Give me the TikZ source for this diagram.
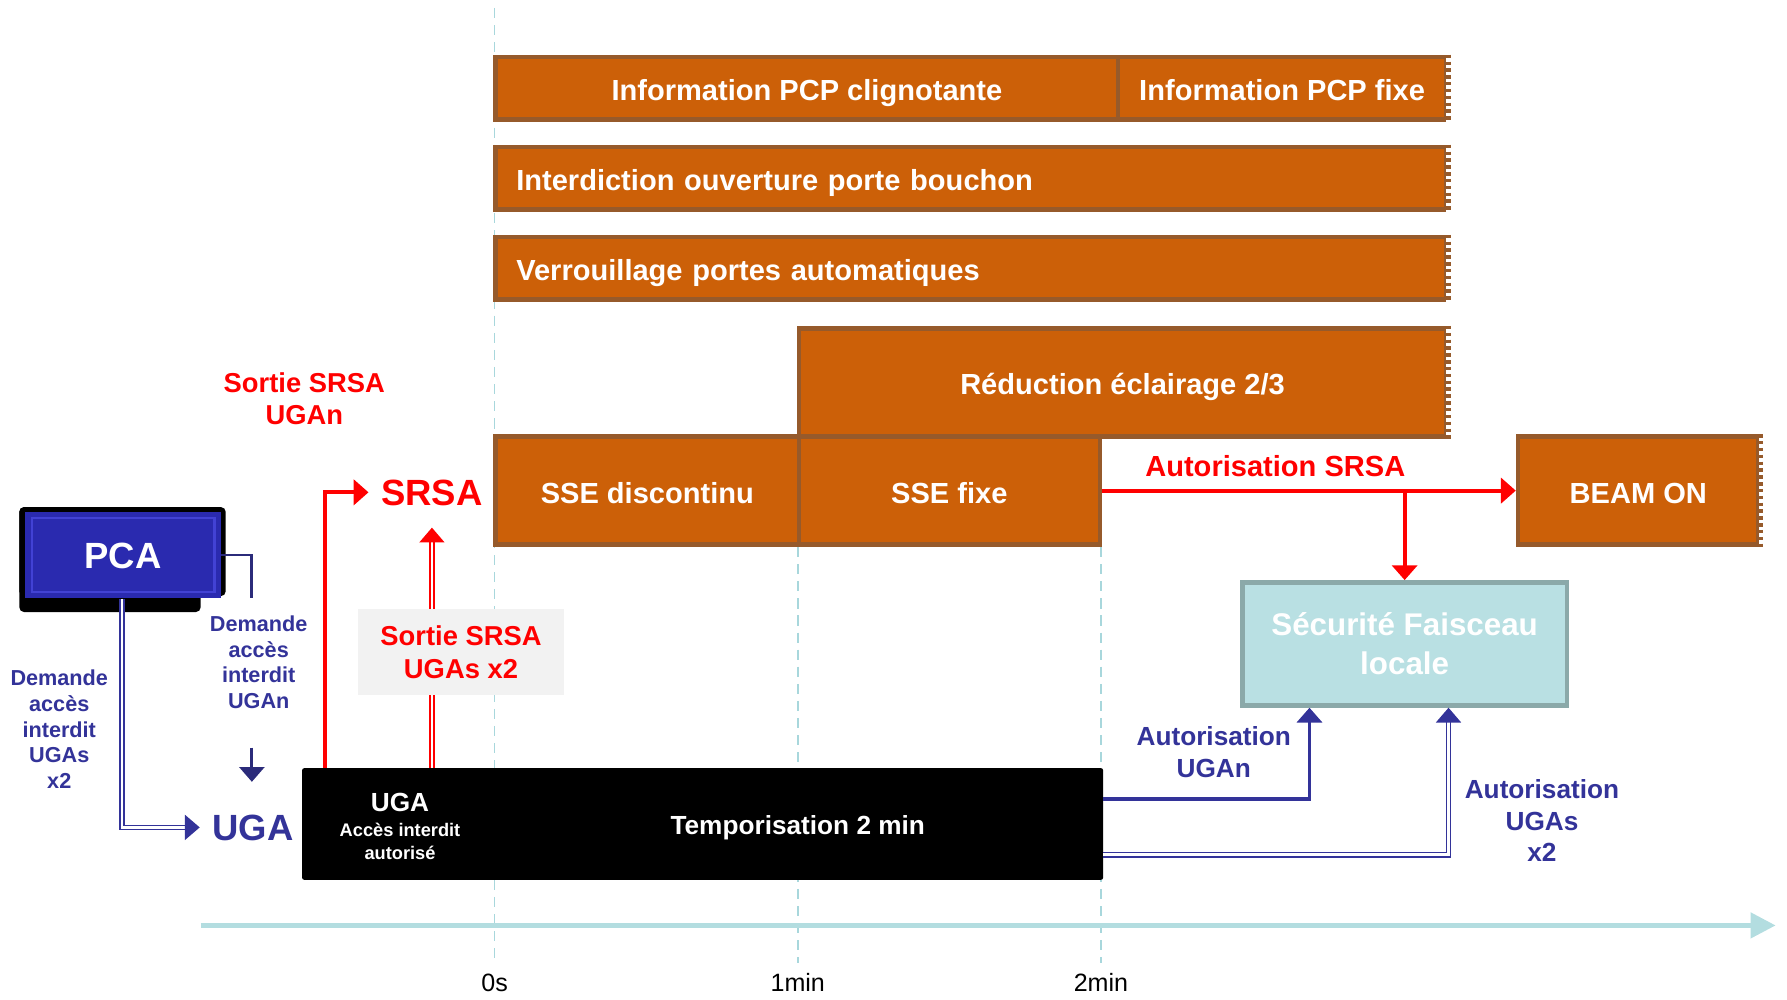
\documentclass[tikz,border=0pt]{standalone}
\usepackage{fontspec}
\setmainfont{Liberation Sans}
\usetikzlibrary{arrows.meta,positioning}

\definecolor{orangebox}{RGB}{204,96,8}
\definecolor{brunbox}{RGB}{150,90,43}
\definecolor{bleupca}{RGB}{42,42,175}
\definecolor{bleubord}{RGB}{66,66,212}
\definecolor{marine}{RGB}{51,51,153}
\definecolor{marinefonce}{RGB}{43,43,122}
\definecolor{cyanbox}{RGB}{185,224,227}
\definecolor{cyanbord}{RGB}{139,169,169}
\definecolor{cyanaxe}{RGB}{179,221,224}
\definecolor{cyangrille}{RGB}{168,215,220}
\definecolor{grisbox}{RGB}{242,242,242}

\tikzset{
  >={Triangle[length=13pt,width=22pt]},
}
\tikzstyle{every node}=[inner sep=0pt]
\tikzstyle{phase}=[draw=brunbox,fill=orangebox,line width=4pt,text=white,anchor=north west,
  font=\bfseries\fontsize{25.5}{30}\selectfont,text height=22pt,text depth=0pt]
\tikzstyle{ouvert}=[draw=white,line width=4pt,postaction={draw=brunbox,dash pattern=on 3pt off 3pt}]
\tikzstyle{repere}=[cyangrille,line width=1.5pt,dash pattern=on 9pt off 6pt]
\tikzstyle{temps}=[font=\fontsize{22}{26}\selectfont,text height=16pt,text depth=0pt]
\tikzstyle{grand}=[font=\bfseries\fontsize{32}{38}\selectfont,text height=23pt,text depth=0pt]
\tikzstyle{moyen}=[font=\bfseries\fontsize{25.5}{30}\selectfont,text height=18.4pt,text depth=0pt]
\tikzstyle{petit}=[font=\bfseries\fontsize{23}{28}\selectfont,text height=16.5pt,text depth=0pt]
\tikzstyle{bloc}=[align=center,font=\bfseries\fontsize{23}{28}\selectfont]
\tikzstyle{demande}=[align=center,text=marine,font=\bfseries\fontsize{19}{22.5}\selectfont]
\tikzstyle{rouge}=[red,line width=3.5pt]
\tikzstyle{rougedbl}=[draw=red,double=white,double distance=2.5pt,line width=1.3pt]
\tikzstyle{bleu}=[marine,line width=3pt]
\tikzstyle{bleudbl}=[draw=marine,double=white,double distance=2.5pt,line width=1.3pt]
\tikzstyle{axe}=[cyanaxe,line width=4pt,-{Triangle[length=22pt,width=22pt]}]

\begin{document}
\begin{tikzpicture}[x=1pt,y=-1pt]
  \useasboundingbox (0,0) rectangle (1568,877);

  \foreach \x/\t/\y in {434/0s/7,700/1min/480,966/2min/480}{
    \draw[repere] (\x,\y) -- (\x,845);
    \node[temps] (t\t) at (\x,862) {\t};
  }
  \coordinate (t0) at (176,812);
  \coordinate (tfin) at (1558,812);
  \draw[axe] (t0) -- (tfin);

  \node[phase,minimum width=546pt,minimum height=55pt] (clign) at (433,48) {Information PCP clignotante};
  \node[phase,minimum width=288pt,minimum height=55pt] (fixe) at (979,48) {Information PCP fixe};
  \node[phase,minimum width=834pt,minimum height=55pt,text width=798pt,align=left] (porte) at (433,127) {Interdiction ouverture porte bouchon};
  \node[phase,minimum width=834pt,minimum height=55pt,text width=798pt,align=left] (verrou) at (433,206) {Verrouillage portes automatiques};
  \node[phase,minimum width=568pt,minimum height=95pt] (eclair) at (699,286) {Réduction éclairage 2/3};
  \node[phase,minimum width=266pt,minimum height=95pt] (ssedisc) at (433,381) {SSE discontinu};
  \node[phase,minimum width=264pt,minimum height=95pt] (ssefixe) at (699,381) {SSE fixe};
  \node[phase,minimum width=211pt,minimum height=95pt] (beam) at (1330,381) {BEAM ON};
  \foreach \n in {fixe,porte,verrou,eclair,beam}
    \draw[ouvert] (\n.north east) -- (\n.south east);

  \fill[black,rounded corners=4pt] (17,445) rectangle (198,523);
  \fill[black,rounded corners=4pt] (17,445) rectangle (176,537);
  \node[grand,fill=bleupca,text=white,minimum width=172pt,minimum height=76pt] (pca) at (108,487) {PCA};
  \draw[bleubord,line width=2pt] ([shift={(6pt,-6pt)}]pca.north west) rectangle ([shift={(-6pt,6pt)}]pca.south east);

  \node[grand,text=red] (srsa) at (379,432) {SRSA};
  \node[grand,text=marine] (uga) at (222,726) {UGA};
  \node[align=center,text=red,font=\bfseries\fontsize{24}{28}\selectfont] (sortien) at (267,350) {Sortie SRSA\\UGAn};
  \node[demande] (dgan) at (227,581) {Demande\\accès\\interdit\\UGAn};
  \node[demande] (dgas) at (52,640) {Demande\\accès\\interdit\\UGAs\\x2};
  \node[moyen,text=red] (autsrsa) at (1119,409) {Autorisation SRSA};
  \node[bloc,text=marine] (autn) at (1065,660) {Autorisation\\UGAn};
  \node[bloc,text=marine] (auts) at (1353,720) {Autorisation\\UGAs\\x2};

  \node[draw=cyanbord,fill=cyanbox,line width=4pt,minimum width=285pt,minimum height=108pt,text=white,
    align=center,font=\bfseries\fontsize{27.5}{34}\selectfont] (secu) at (1232.5,565) {Sécurité Faisceau\\locale};

  \node[fill=black,rounded corners=2pt,minimum width=703pt,minimum height=98pt] (tempo) at (616.5,723) {};
  \node[petit,text=white] (tempotxt) at (700,724) {Temporisation 2 min};
  \node[petit,text=white] (ugabloc) at (351,704) {UGA};
  \node[align=center,text=white,font=\bfseries\fontsize{16}{20}\selectfont] (acces) at (351,738) {Accès interdit\\autorisé};

  \coordinate (pcabas) at (221,525);
  \draw[marinefonce,line width=2.5pt] (pca.east) -| (pcabas);
  \coordinate (fh) at (221,656);
  \coordinate (fb) at (221,686);
  \draw[marinefonce,line width=2.5pt,->] (fh) -- (fb);
  \draw[bleudbl,->] ([xshift=-1pt]pca.south) |- ([xshift=-11pt]uga.west);

  \coordinate (r1) at ([xshift=20pt]tempo.north west);
  \draw[rouge,->] (r1) |- ([xshift=-11pt]srsa.west);
  \coordinate (r2) at (srsa.south |- tempo.north);
  \coordinate (r2fin) at (379,463);
  \draw[rougedbl,->] (r2) -- (r2fin);
  \node[align=center,fill=grisbox,text=red,minimum width=181pt,minimum height=76pt,
    font=\bfseries\fontsize{24}{29}\selectfont] (sortie2) at (404.5,572) {Sortie SRSA\\UGAs x2};

  \draw[rouge,->] (ssefixe.east) -- (beam.west);
  \draw[rouge,->] (secu.north |- ssefixe.east) -- (secu.north);
  \draw[bleu,->] (tempo.east |- 0,701) -| (secu.south -| 1149,0);
  \draw[bleudbl,->] (tempo.east |- 0,750) -| (secu.south -| 1271,0);
\end{tikzpicture}
\end{document}
